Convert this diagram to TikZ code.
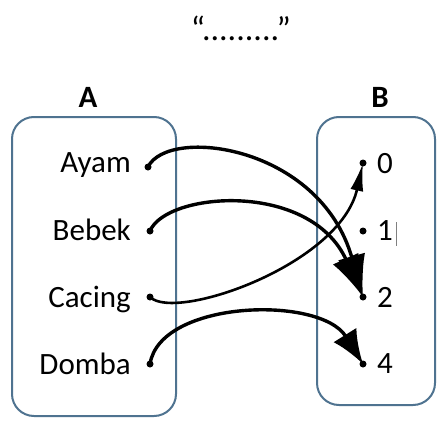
\documentclass[tikz,border=0pt]{standalone}
\usepackage{fontspec}
\setmainfont{Carlito}
\usetikzlibrary{arrows.meta}
\definecolor{boxc}{HTML}{4F7390}
\tikzset{
  setbox/.style={draw=boxc, line width=2pt, rounded corners=22pt},
  dot/.style={circle, fill=black, inner sep=0pt, minimum size=7pt},
  lab/.style={font=\fontsize{31}{31}\selectfont, inner sep=0pt},
  head/.style={font=\fontsize{31}{31}\selectfont\bfseries, inner sep=0pt, anchor=base},
  conn/.style={line width=3.4pt},
}
\begin{document}
\begin{tikzpicture}[x=1pt,y=-1pt]
\useasboundingbox (0,0) rectangle (444,420);
\node[font=\fontsize{34}{34}\selectfont, inner sep=0pt, anchor=base] (title) at (241,41) {“.........”};
\node[head] (A) at (88,107) {A};
\node[head] (B) at (380,107) {B};
\draw[setbox] (12,117) rectangle (176,416);
\draw[setbox] (317,117) rectangle (435,405);
% left labels
\node[lab, anchor=base east] (tAyam) at (131,172) {Ayam};
\node[lab, anchor=base east] (tBebek) at (131,240) {Bebek};
\node[lab, anchor=base east] (tCacing) at (131,307) {Cacing};
\node[lab, anchor=base east] (tDomba) at (131,374) {Domba};
% right labels
\node[lab, anchor=base west] (t0) at (377,173) {0};
\node[lab, anchor=base west] (t1) at (377,240) {1};
\draw[gray, line width=0.8pt] (396,222) -- (396,246);
\node[lab, anchor=base west] (t2) at (377,307) {2};
\node[lab, anchor=base west] (t4) at (377,373) {4};
% dots
\node[dot] (a) at (148,167) {};
\node[dot] (b) at (150,231) {};
\node[dot] (c) at (150,297) {};
\node[dot] (d) at (150,364) {};
\node[dot] (n0) at (363,163) {};
\node[dot] (n1) at (363,231) {};
\node[dot] (n2) at (363,297) {};
\node[dot] (n4) at (363,364) {};
% connectors
\draw[conn, -{Latex[length=42pt,width=28pt]}] (a.center) .. controls (168,126) and (320,145) .. (n2.center);
\draw[conn, -{Latex[length=42pt,width=28pt]}] (b.center) .. controls (166,192) and (310,180) .. (n2.center);
\draw[conn, line width=2.6pt, -{Latex[length=28pt,width=13pt]}] (c.center) .. controls (175,322) and (340,265) .. (n0.center);
\draw[conn, -{Latex[length=34pt,width=27pt]}] (d.center) .. controls (160,300) and (320,295) .. (n4.center);
\end{tikzpicture}
\end{document}
